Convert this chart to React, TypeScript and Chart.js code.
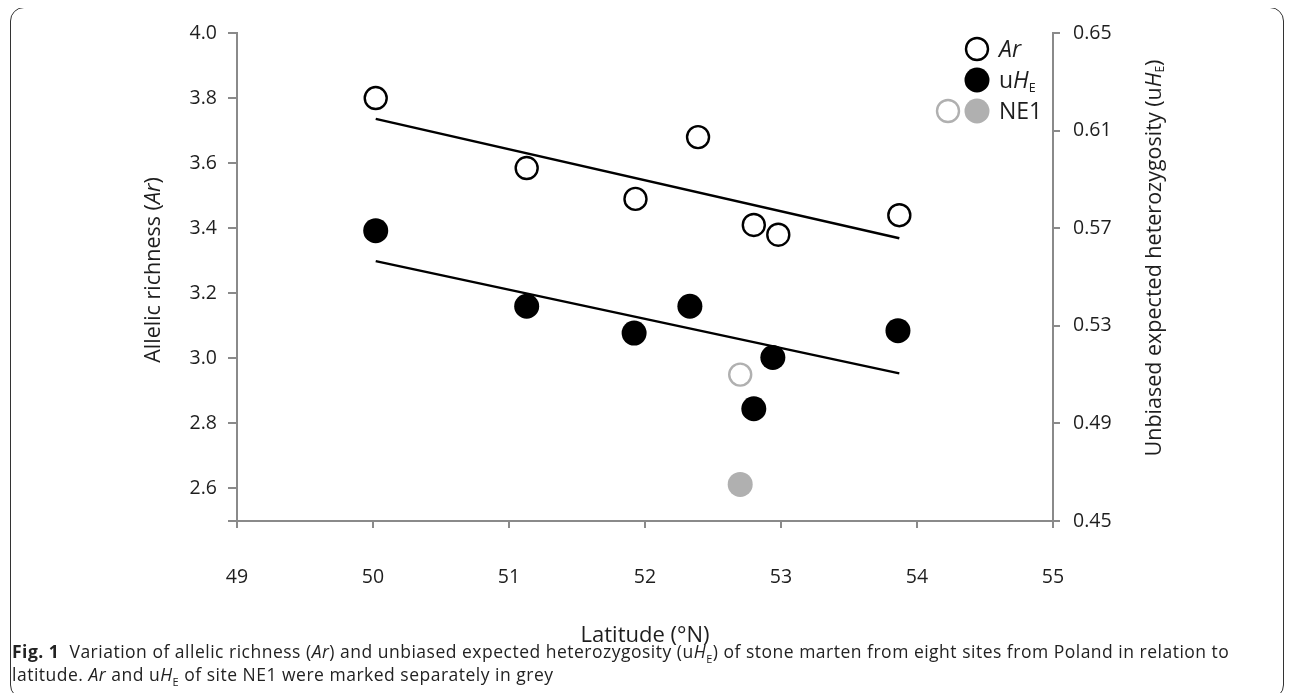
import React, { useEffect, useRef } from "react";
import { Chart, registerables } from "chart.js";

Chart.register(...registerables);

// ---- data ----
const arLatitude = [50.02, 51.13, 51.93, 52.39, 52.8, 52.98, 53.87];
const arValues = [3.8, 3.585, 3.49, 3.68, 3.41, 3.38, 3.44];
const uheLatitude = [50.02, 51.13, 51.92, 52.33, 52.8, 52.94, 53.86];
const uheValues = [0.569, 0.538, 0.527, 0.538, 0.496, 0.517, 0.528];
const ne1Latitude = [52.7];
const ne1Ar = [2.95];
const ne1Uhe = [0.465];
const arTrendLatitude = [50.02, 53.87];
const arTrendValues = [3.736, 3.369];
const uheTrendLatitude = [50.02, 53.87];
const uheTrendValues = [0.5565, 0.5105];
const xTicks = [49, 50, 51, 52, 53, 54, 55];
const leftTicks = [2.5, 2.6, 2.8, 3.0, 3.2, 3.4, 3.6, 3.8, 4.0];
const rightTicks = [0.45, 0.49, 0.53, 0.57, 0.61, 0.65];

const pts = (xs: number[], ys: number[]) => xs.map((x, i) => ({ x, y: ys[i] }));

const AXIS = "#8a8a8a";
const TEXT = "#1e1e1e";
const GREY = "#b0b0b0";
const FONT = "'Open Sans'";

const W = 1277;
const H = 640;

function drawMixed(
  ctx: CanvasRenderingContext2D,
  parts: { t: string; f: string; dy?: number }[],
  cx: number,
  cy: number,
  rot: number,
  align: "center" | "left",
  base: number
) {
  ctx.save();
  ctx.translate(cx, cy);
  ctx.rotate(rot);
  ctx.fillStyle = TEXT;
  ctx.textBaseline = "alphabetic";
  ctx.textAlign = "left";
  let total = 0;
  const widths = parts.map((p) => {
    ctx.font = p.f;
    const w = ctx.measureText(p.t).width;
    total += w;
    return w;
  });
  let x = align === "center" ? -total / 2 : 0;
  parts.forEach((p, i) => {
    ctx.font = p.f;
    ctx.fillText(p.t, x, base + (p.dy || 0));
    x += widths[i];
  });
  ctx.restore();
}

const annotations = {
  id: "annotations",
  afterDraw(chart: any) {
    const ctx: CanvasRenderingContext2D = chart.ctx;
    const n = `21.5px ${FONT}`;
    const it = `italic 21.5px ${FONT}`;
    const sub = `12px ${FONT}`;
    // left axis title
    drawMixed(
      ctx,
      [
        { t: "Allelic richness (", f: n },
        { t: "Ar", f: it },
        { t: ")", f: n },
      ],
      144,
      262,
      -Math.PI / 2,
      "center",
      7.7
    );
    // right axis title
    drawMixed(
      ctx,
      [
        { t: "Unbiased expected heterozygosity (u", f: n },
        { t: "H", f: it },
        { t: "E", f: sub, dy: 3.5 },
        { t: ")", f: n },
      ],
      1145,
      250,
      -Math.PI / 2,
      "center",
      7.7
    );
    // x axis title
    drawMixed(ctx, [{ t: "Latitude (°N)", f: `22px ${FONT}` }], 637, 626, 0, "center", 7.9);

    // legend
    const lf = `23px ${FONT}`;
    const lfi = `italic 23px ${FONT}`;
    const circle = (x: number, y: number, fill: string | null, stroke: string | null) => {
      ctx.save();
      ctx.beginPath();
      ctx.arc(x, y, fill ? 12.5 : 11, 0, Math.PI * 2);
      if (fill) {
        ctx.fillStyle = fill;
        ctx.fill();
      }
      if (stroke) {
        ctx.lineWidth = 2.4;
        ctx.strokeStyle = stroke;
        ctx.stroke();
      }
      ctx.restore();
    };
    circle(969, 41, null, "#000");
    circle(969, 72, "#000", null);
    circle(940, 103, null, GREY);
    circle(969, 103, GREY, null);
    drawMixed(ctx, [{ t: "Ar", f: lfi }], 991, 41, 0, "left", 8.2);
    drawMixed(
      ctx,
      [
        { t: "u", f: lf },
        { t: "H", f: lfi },
        { t: "E", f: `12.5px ${FONT}`, dy: 3.5 },
      ],
      991,
      72,
      0,
      "left",
      8.2
    );
    drawMixed(ctx, [{ t: "NE1", f: lf }], 991, 103, 0, "left", 8.2);
  },
};

export default function App() {
  const ref = useRef<HTMLCanvasElement | null>(null);

  useEffect(() => {
    if (!ref.current) return;
    const tickFont = { family: FONT, size: 19.5 };
    const grid = {
      display: true,
      drawOnChartArea: false,
      drawTicks: true,
      tickLength: 7,
      color: AXIS,
      lineWidth: 2,
    };
    const border = { display: true, color: AXIS, width: 2 };
    const chart = new Chart(ref.current, {
      type: "scatter",
      data: {
        datasets: [
          {
            label: "Ar",
            data: pts(arLatitude, arValues),
            yAxisID: "y",
            pointRadius: 11,
            pointBorderWidth: 2.4,
            pointBorderColor: "#000",
            pointBackgroundColor: "#fff",
            order: 1,
          },
          {
            label: "uHE",
            data: pts(uheLatitude, uheValues),
            yAxisID: "y1",
            pointRadius: 12.5,
            pointBorderWidth: 0,
            pointBorderColor: "#000",
            pointBackgroundColor: "#000",
            order: 1,
          },
          {
            label: "NE1 Ar",
            data: pts(ne1Latitude, ne1Ar),
            yAxisID: "y",
            pointRadius: 11,
            pointBorderWidth: 2.4,
            pointBorderColor: GREY,
            pointBackgroundColor: "#fff",
            order: 1,
          },
          {
            label: "NE1 uHE",
            data: pts(ne1Latitude, ne1Uhe),
            yAxisID: "y1",
            pointRadius: 12.5,
            pointBorderWidth: 0,
            pointBorderColor: GREY,
            pointBackgroundColor: GREY,
            order: 1,
          },
          {
            label: "Ar trend",
            data: pts(arTrendLatitude, arTrendValues),
            yAxisID: "y",
            showLine: true,
            borderColor: "#000",
            borderWidth: 2.5,
            pointRadius: 0,
            order: 2,
          },
          {
            label: "uHE trend",
            data: pts(uheTrendLatitude, uheTrendValues),
            yAxisID: "y1",
            showLine: true,
            borderColor: "#000",
            borderWidth: 2.5,
            pointRadius: 0,
            order: 2,
          },
        ],
      },
      options: {
        animation: false,
        responsive: false,
        maintainAspectRatio: false,
        devicePixelRatio: 1,
        layout: { padding: { top: 25, left: 0, right: 0, bottom: 0 } },
        plugins: { legend: { display: false }, tooltip: { enabled: false } },
        scales: {
          x: {
            type: "linear",
            min: 49,
            max: 55,
            afterBuildTicks: (s: any) => {
              s.ticks = xTicks.map((v) => ({ value: v }));
            },
            afterFit: (s: any) => {
              s.height = H - 513;
            },
            ticks: {
              font: tickFont,
              color: TEXT,
              padding: 38,
              autoSkip: false,
              maxRotation: 0,
              callback: (v: any) => String(v),
            },
            grid,
            border,
          },
          y: {
            type: "linear",
            position: "left",
            min: 2.5,
            max: 4.0,
            afterBuildTicks: (s: any) => {
              s.ticks = leftTicks.map((v) => ({ value: v }));
            },
            afterFit: (s: any) => {
              s.width = 229;
            },
            ticks: {
              font: tickFont,
              color: TEXT,
              padding: 11,
              autoSkip: false,
              callback: (v: any) => (Math.abs(v - 2.5) < 1e-9 ? "" : Number(v).toFixed(1)),
            },
            grid: { ...grid, tickLength: 9 },
            border,
          },
          y1: {
            type: "linear",
            position: "right",
            min: 0.45,
            max: 0.65,
            afterBuildTicks: (s: any) => {
              s.ticks = rightTicks.map((v) => ({ value: v }));
            },
            afterFit: (s: any) => {
              s.width = W - 1045;
            },
            ticks: {
              font: tickFont,
              color: TEXT,
              padding: 13,
              autoSkip: false,
              callback: (v: any) => Number(v).toFixed(2),
            },
            grid,
            border,
          },
        },
      },
      plugins: [annotations],
    } as any);
    return () => chart.destroy();
  }, []);

  const subStyle = { fontSize: 11, lineHeight: 0 };

  return (
    <div style={{ position: "relative", width: W, height: 685 }}>
      <div
        style={{
          position: "absolute",
          left: 2,
          top: -1,
          width: 1274,
          height: 692,
          border: "1.5px solid #333",
          borderRadius: 14,
          boxSizing: "border-box",
        }}
      />
      <canvas
        ref={ref}
        width={W}
        height={H}
        style={{ position: "absolute", left: 0, top: 0, width: W, height: H }}
      />
      <div
        style={{
          position: "absolute",
          left: 4,
          top: 632,
          width: 1270,
          fontFamily: FONT,
          fontSize: 17.5,
          letterSpacing: 0.5,
          lineHeight: "23px",
          color: "#222",
          whiteSpace: "nowrap",
        }}
      >
        <b>Fig. 1</b>&nbsp; Variation of allelic richness (<i>Ar</i>) and unbiased expected heterozygosity (u
        <i>H</i>
        <sub style={subStyle}>E</sub>) of stone marten from eight sites from Poland in relation to
        <br />
        latitude. <i>Ar</i> and u<i>H</i>
        <sub style={subStyle}>E</sub> of site NE1 were marked separately in grey
      </div>
    </div>
  );
}
